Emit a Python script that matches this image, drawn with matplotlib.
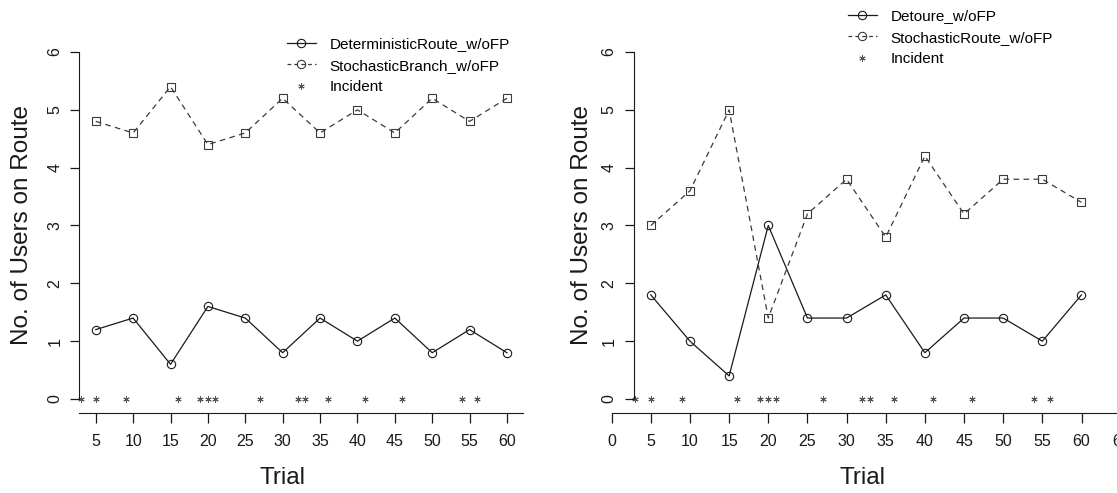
import numpy as np
import matplotlib
matplotlib.use('Agg')
import matplotlib.pyplot as plt
from matplotlib.lines import Line2D

# trials at which users were counted
trials = [5, 10, 15, 20, 25, 30, 35, 40, 45, 50, 55, 60]
# trials with an incident (drawn as * on the zero line)
incidents = [3, 5, 9, 16, 19, 20, 21, 27, 32, 33, 36, 41, 46, 54, 56]

# left panel
deterministic_route = [1.2, 1.4, 0.6, 1.6, 1.4, 0.8, 1.4, 1.0, 1.4, 0.8, 1.2, 0.8]
stochastic_branch = [4.8, 4.6, 5.4, 4.4, 4.6, 5.2, 4.6, 5.0, 4.6, 5.2, 4.8, 5.2]
left_labels = ['DeterministicRoute_w/oFP', 'StochasticBranch_w/oFP', 'Incident']

# right panel
detoure = [1.8, 1.0, 0.4, 3.0, 1.4, 1.4, 1.8, 0.8, 1.4, 1.4, 1.0, 1.8]
stochastic_route = [3.0, 3.6, 5.0, 1.4, 3.2, 3.8, 2.8, 4.2, 3.2, 3.8, 3.8, 3.4]
right_labels = ['Detoure_w/oFP', 'StochasticRoute_w/oFP', 'Incident']

left_xticks = list(range(5, 61, 5))
right_xticks = list(range(0, 66, 5))
yticks = [0, 1, 2, 3, 4, 5, 6]

W, H = 1117, 493
plt.rcParams['font.family'] = ['Liberation Sans', 'DejaVu Sans']
fig = plt.figure(figsize=(W / 100, H / 100), dpi=100)

AX_TOP, AX_BOT = 38.1, 412.9
TICK_FS = 11.5
LAB_FS = 17.5
LEG_FS = 11
INK = '#1a1a1a'
DASH = (0, (4.5, 3.5))


def px_axes(x0, x1, ytop, ybot):
    return fig.add_axes([x0 / W, 1 - ybot / H, (x1 - x0) / W, (ybot - ytop) / H])


def draw_panel(ax, solid, dashed):
    ax.plot(trials, solid, ls='-', marker='o', color=INK, lw=0.9, ms=6,
            mfc='none', mew=0.8)
    ax.plot(trials, dashed, ls=DASH, marker='s', color='#3a3a3a', lw=0.9, ms=5.5,
            mfc='none', mew=0.8)
    ax.plot(incidents, np.zeros(len(incidents)), ls='none', marker=(6, 2, 0),
            ms=4.5, color='#555555', mew=0.7, clip_on=False)
    ax.set_xlim(2.8, 62.2)
    ax.set_ylim(-0.24, 6.24)
    for s in ['top', 'right']:
        ax.spines[s].set_visible(False)
    ax.spines['left'].set_bounds(0, 6)
    ax.spines['left'].set_color(INK)
    ax.set_yticks(yticks)
    ax.tick_params(axis='y', direction='out', length=6.2, width=0.9, colors=INK,
                   labelsize=TICK_FS, pad=6, labelrotation=90)
    for lbl in ax.get_yticklabels():
        lbl.set_va('center')
    ax.patch.set_alpha(0)


def style_xaxis(ax, ticks):
    ax.spines['bottom'].set_color(INK)
    ax.set_xticks(ticks)
    ax.tick_params(axis='x', direction='out', length=7.2, width=0.9, colors=INK,
                   labelsize=TICK_FS, pad=8)


def add_legend(labels, x, y):
    handles = [
        Line2D([], [], color=INK, ls='-', lw=0.9, marker='o', ms=6, mfc='none', mew=0.8),
        Line2D([], [], color='#3a3a3a', ls=(0, (3, 2.5)), lw=0.9, marker='o', ms=6,
               mfc='none', mew=0.8),
        Line2D([], [], color='#555555', ls='none', marker=(6, 2, 0), ms=4.5, mew=0.7),
    ]
    fig.legend(handles, labels, loc='upper left', bbox_to_anchor=(x / W, 1 - y / H),
               frameon=False, borderpad=0, borderaxespad=0, handlelength=1.87,
               handletextpad=0.93, labelspacing=0.5, fontsize=LEG_FS, numpoints=1)


# left panel
axl = px_axes(79.3, 523.4, AX_TOP, AX_BOT)
draw_panel(axl, deterministic_route, stochastic_branch)
style_xaxis(axl, left_xticks)
add_legend(left_labels, 287, 37)

# right panel: its x axis runs from 0 to 65, wider than the plotting region
axr = px_axes(633.6, 1098.7, AX_TOP, AX_BOT)
draw_panel(axr, detoure, stochastic_route)
axr.spines['bottom'].set_visible(False)
axr.set_xticks([])
axx = px_axes(611.7, 1120.7, AX_BOT - 1, AX_BOT)
axx.set_xlim(0, 65)
axx.set_yticks([])
for s in ['top', 'right', 'left']:
    axx.spines[s].set_visible(False)
axx.patch.set_alpha(0)
style_xaxis(axx, right_xticks)
add_legend(right_labels, 848, 9)

# axis titles
for x in [22, 582]:
    fig.text(x / W, 1 - 225 / H, 'No. of Users on Route', rotation=90,
             ha='center', va='center', fontsize=LAB_FS, color=INK)
for x in [283, 862]:
    fig.text(x / W, 1 - 478 / H, 'Trial', ha='center', va='center',
             fontsize=LAB_FS, color=INK)

fig.savefig('out.png', dpi=100)
